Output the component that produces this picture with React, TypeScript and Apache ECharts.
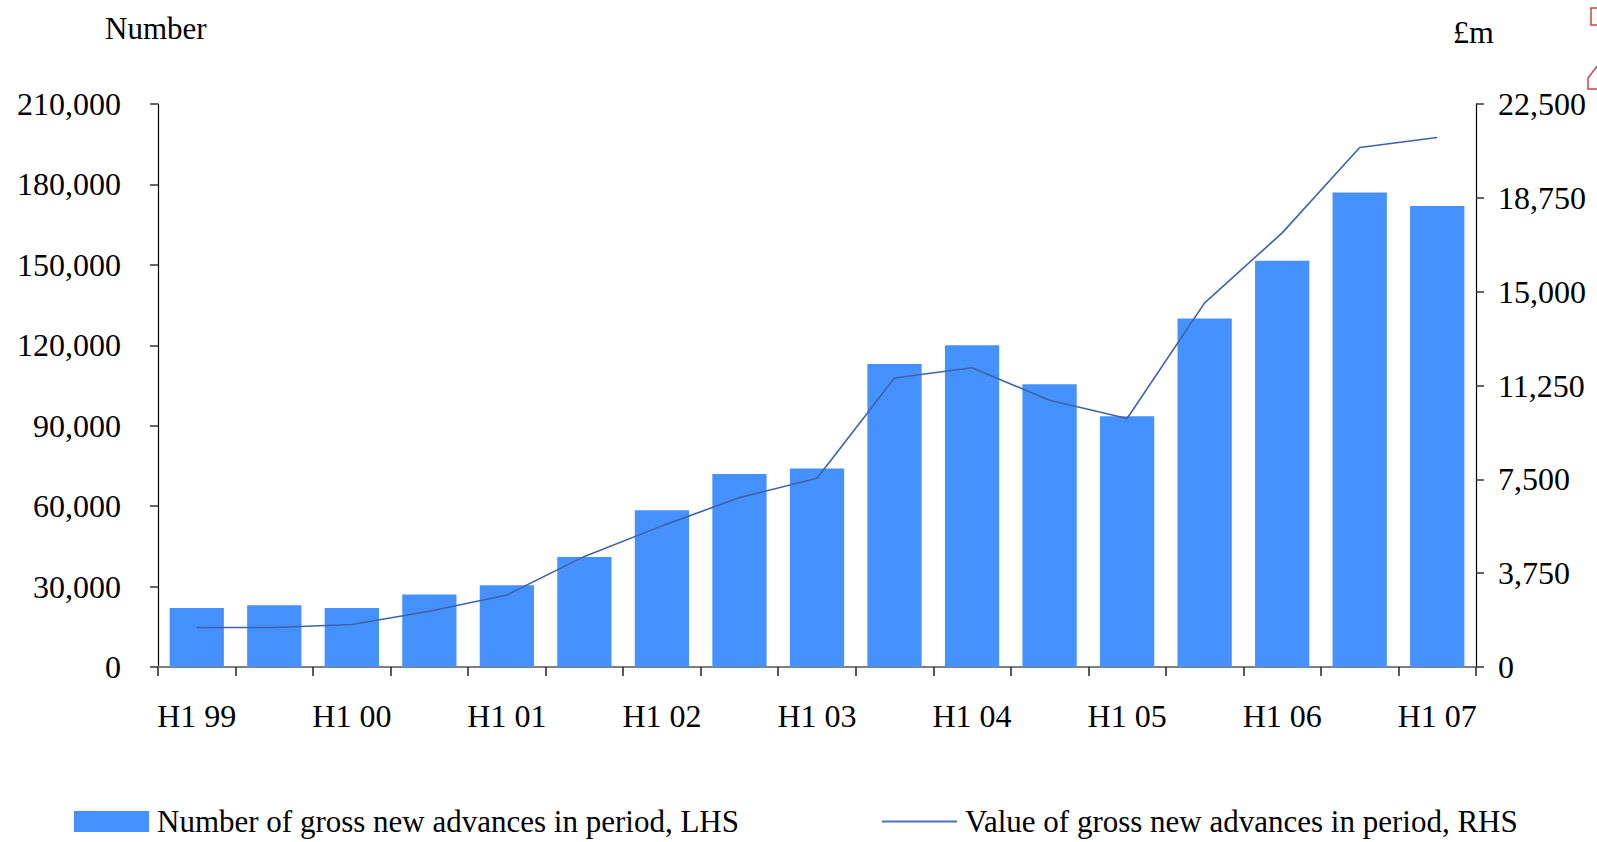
import React, { useEffect, useRef } from "react";
import * as echarts from "echarts";

const categories = [
  "H1 99", "H2 99", "H1 00", "H2 00", "H1 01", "H2 01", "H1 02", "H2 02",
  "H1 03", "H2 03", "H1 04", "H2 04", "H1 05", "H2 05", "H1 06", "H2 06", "H1 07",
];
const advancesNumber = [
  22000, 23000, 22000, 27000, 30500, 41000, 58500, 72000,
  74000, 113000, 120000, 105500, 93500, 130000, 151500, 177000, 172000,
];
const advancesValue = [
  1580, 1580, 1700, 2230, 2880, 4420, 5640, 6770,
  7540, 11550, 11960, 10660, 9930, 14550, 17350, 20760, 21160,
];
const barName = "Number of gross new advances in period, LHS";
const lineName = "Value of gross new advances in period, RHS";
const leftTitle = "Number";
const rightTitle = "£m";

const FONT = "'Liberation Serif', 'Times New Roman', serif";
const fmt = (v: number) => v.toLocaleString("en-US");

export default function App() {
  const ref = useRef<HTMLDivElement>(null);
  useEffect(() => {
    if (!ref.current) return;
    const chart = echarts.init(ref.current, undefined, { renderer: "svg" });
    const txt = { fontFamily: FONT, fontSize: 32, color: "#000" };
    const legTxt = { fontFamily: FONT, fontSize: 31, color: "#000", padding: [0, 0, 0, 3] };
    chart.setOption({
      animation: false,
      backgroundColor: "#fff",
      textStyle: { fontFamily: FONT },
      grid: { left: 158, right: 121, top: 104, bottom: 175 },
      legend: [
        {
          data: [{ name: barName, icon: "rect" }],
          left: 74,
          top: 806,
          padding: 0,
          itemWidth: 75,
          itemHeight: 21,
          textStyle: legTxt,
          selectedMode: false,
        },
        {
          data: [{ name: lineName, icon: "rect" }],
          left: 882,
          top: 806,
          padding: 0,
          itemWidth: 75,
          itemHeight: 2,
          textStyle: legTxt,
          selectedMode: false,
        },
      ],
      xAxis: {
        type: "category",
        data: categories,
        boundaryGap: true,
        axisLine: { lineStyle: { color: "#7f7f7f", width: 2 } },
        axisTick: { show: true, interval: 0, length: 9, lineStyle: { color: "#222", width: 1.5 } },
        axisLabel: { ...txt, interval: 1, margin: 33 },
        splitLine: { show: false },
      },
      yAxis: [
        {
          type: "value",
          min: 0,
          max: 210000,
          interval: 30000,
          axisLine: { show: true, lineStyle: { color: "#000", width: 1.2 } },
          axisTick: { show: true, length: 8, lineStyle: { color: "#333", width: 1.5 } },
          axisLabel: { ...txt, margin: 37, formatter: fmt },
          splitLine: { show: false },
        },
        {
          type: "value",
          min: 0,
          max: 22500,
          interval: 3750,
          position: "right",
          axisLine: { show: true, lineStyle: { color: "#000", width: 1.2 } },
          axisTick: { show: true, length: 8, lineStyle: { color: "#333", width: 1.5 } },
          axisLabel: { ...txt, margin: 22, formatter: fmt },
          splitLine: { show: false },
        },
      ],
      series: [
        {
          name: barName,
          type: "bar",
          data: advancesNumber,
          yAxisIndex: 0,
          barCategoryGap: "30%",
          itemStyle: { color: "#4592ff" },
        },
        {
          name: lineName,
          type: "line",
          data: advancesValue,
          yAxisIndex: 1,
          symbol: "none",
          lineStyle: { color: "#3f63a6", width: 1.6 },
          itemStyle: { color: "#4a72b8" },
          z: 3,
        },
      ],
      graphic: [
        {
          type: "text",
          left: 105,
          top: 13,
          style: { text: leftTitle, font: `31px ${FONT}`, fill: "#000" },
        },
        {
          type: "text",
          left: 1453,
          top: 16,
          style: { text: rightTitle, font: `32px ${FONT}`, fill: "#000" },
        },
        {
          type: "polyline",
          shape: { points: [[1598, 8], [1591, 8], [1591, 25], [1598, 25]] },
          style: { stroke: "#d0403f", lineWidth: 1.5, fill: "none" },
        },
        {
          type: "polyline",
          shape: { points: [[1598, 65], [1588, 78], [1588, 89], [1598, 89]] },
          style: { stroke: "#d0403f", lineWidth: 1.5, fill: "none" },
        },
      ],
    });
    return () => chart.dispose();
  }, []);
  return <div ref={ref} style={{ width: 1597, height: 842, position: "absolute", left: 0, top: 0 }} />;
}
